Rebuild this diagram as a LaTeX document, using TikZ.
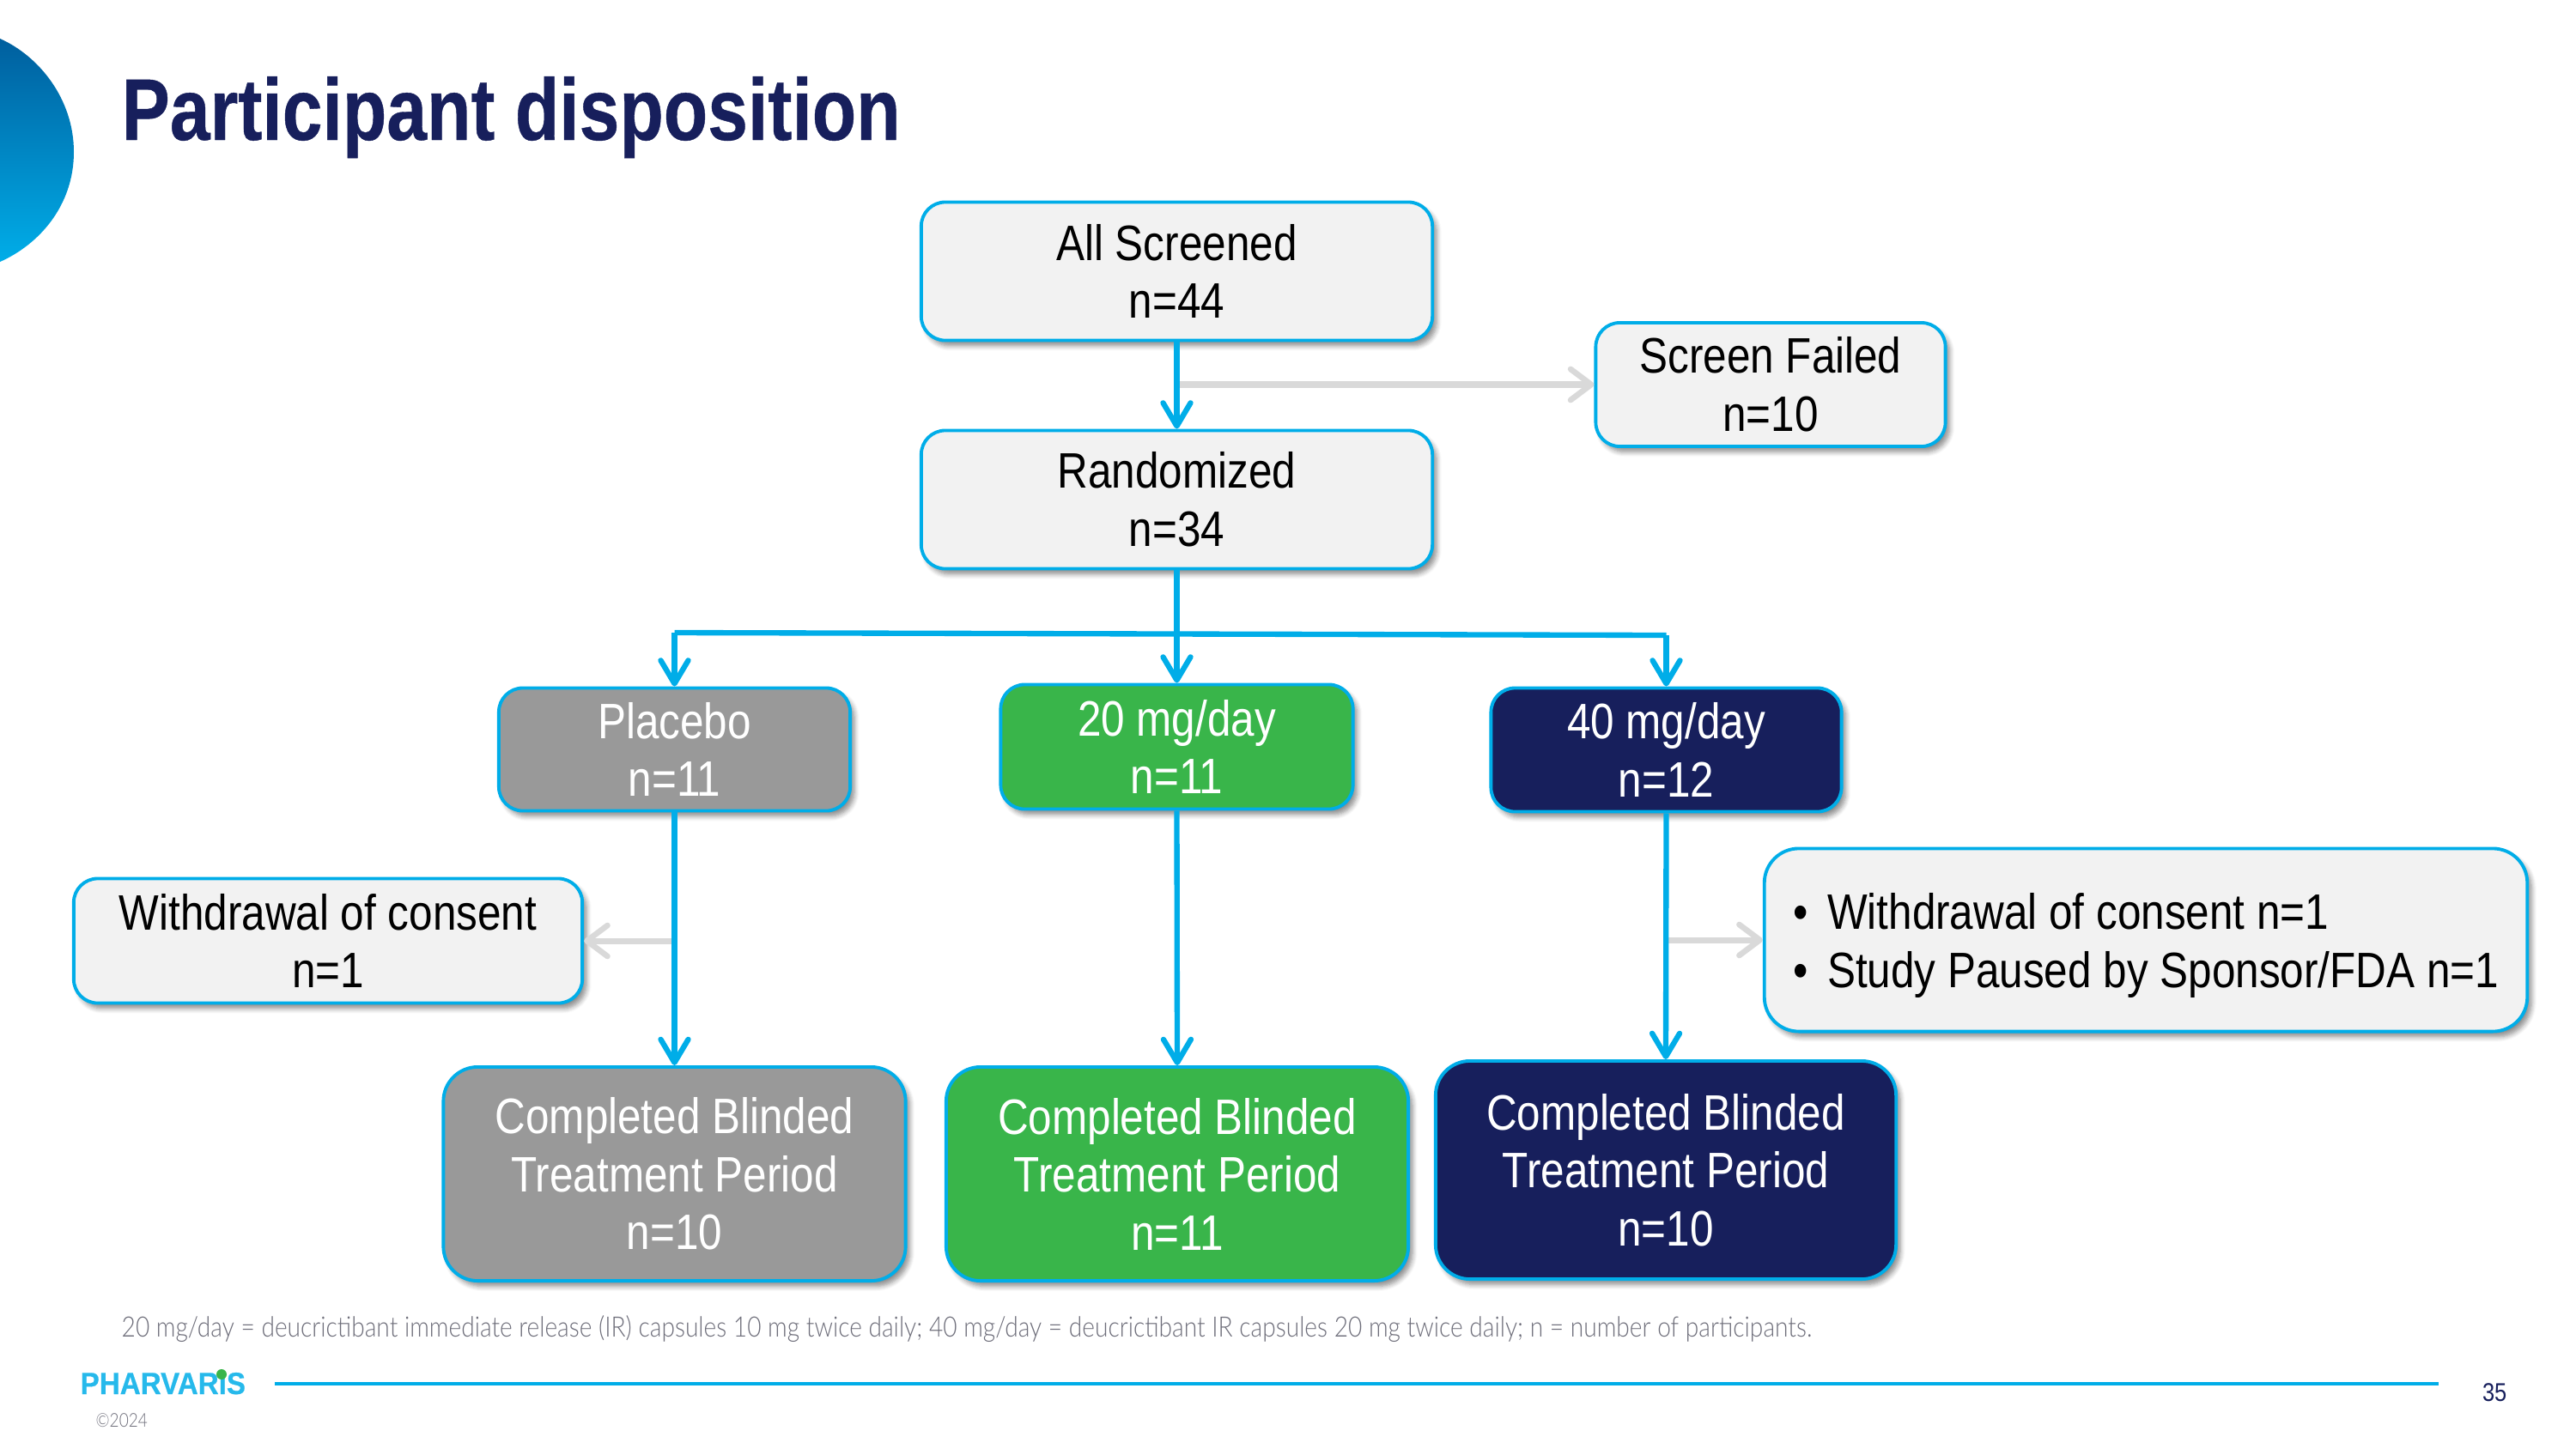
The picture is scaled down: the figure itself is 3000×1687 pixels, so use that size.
\documentclass[tikz,border=0pt]{standalone}
\usepackage{fontspec}
\setmainfont[FakeStretch=0.852]{Liberation Sans}
\newfontfamily\thinfont[FakeStretch=0.86]{Lato Light}
\newfontfamily\titlefont[FakeStretch=0.825,FakeBold=0.4]{Liberation Sans Bold}
\newfontfamily\brandfont[FakeStretch=0.925,FakeBold=0.5]{Liberation Sans Bold}
\usetikzlibrary{arrows.meta,shadows.blur}
\definecolor{flowblue}{HTML}{00ADE8}
\definecolor{flowgrey}{HTML}{999999}
\definecolor{flowgreen}{HTML}{39B54A}
\definecolor{flownavy}{HTML}{171F5C}
\definecolor{palebox}{HTML}{F2F2F2}
\definecolor{paleline}{HTML}{D9D9D9}
\definecolor{noteink}{HTML}{6E6E7A}
\definecolor{logotop}{HTML}{005F9E}
\begin{document}
\begin{tikzpicture}[x=0.01cm, y=-0.01cm,
    flowbox/.style={rectangle, rounded corners=2.8mm, draw=flowblue, line width=1.1pt, align=center, inner sep=0pt, font=\fontsize{16.5}{19.2}\selectfont, blur shadow={shadow xshift=1.4pt, shadow yshift=-1.8pt, shadow blur radius=1.6pt, shadow blur steps=6, shadow opacity=45}},
    palenode/.style={flowbox, fill=palebox, text=black},
    greynode/.style={flowbox, fill=flowgrey, text=white},
    greennode/.style={flowbox, fill=flowgreen, text=white},
    navynode/.style={flowbox, fill=flownavy, text=white},
    mainline/.style={draw=flowblue, line width=1.8pt},
    mainarrow/.style={mainline, -{Straight Barb[round, length=2.7mm, width=3.2mm, line width=1.8pt]}},
    sidearrow/.style={draw=paleline, line width=2pt, -{Straight Barb[round, length=2.4mm, width=3.6mm, line width=1.9pt]}}
  ]
  \useasboundingbox (0,0) rectangle (3000,1687);

  % logo shape at the corner
  \shade[top color=logotop, bottom color=flowblue] (0,45) .. controls (45,65) and (86,115) .. (86,177) .. controls (86,240) and (45,285) .. (0,305) -- cycle;
  \node[anchor=base west, inner sep=0pt, text=flownavy, font=\titlefont\fontsize{29}{32}\selectfont] (title) at (141,163) {Participant disposition};

  % top of the flow
  \node[palenode, minimum width=5.95cm, minimum height=1.61cm] (screened) at (1370.5,316) {All Screened\\n=44};
  \node[palenode, minimum width=4.07cm, minimum height=1.44cm] (failed) at (2062,448) {Screen Failed\\n=10};
  \node[palenode, minimum width=5.95cm, minimum height=1.61cm] (random) at (1370.5,582) {Randomized\\n=34};

  % arms
  \node[greynode, minimum width=4.09cm, minimum height=1.43cm] (placebo) at (785.5,873) {Placebo\\n=11};
  \node[greennode, minimum width=4.10cm, minimum height=1.45cm] (lowdose) at (1370.5,870) {20 mg/day\\n=11};
  \node[navynode, minimum width=4.08cm, minimum height=1.44cm] (highdose) at (1940.5,873.5) {40 mg/day\\n=12};

  % withdrawals
  \node[palenode, minimum width=5.92cm, minimum height=1.45cm] (leftout) at (382,1096) {Withdrawal of consent\\n=1};
  \node[palenode, minimum width=8.88cm, minimum height=2.13cm, rounded corners=4mm] (rightout) at (2499,1095) {\begin{tabular}{@{}l@{\hspace{6.5pt}}l@{}}•&\rule{0pt}{18pt}Withdrawal of consent n=1\\•&Study Paused by Sponsor/FDA n=1\end{tabular}};

  % completed
  \node[greynode, minimum width=5.38cm, minimum height=2.49cm, rounded corners=4mm] (donegrey) at (785.5,1367.5) {Completed Blinded\\Treatment Period\\n=10};
  \node[greennode, minimum width=5.38cm, minimum height=2.49cm, rounded corners=4mm] (donegreen) at (1371,1367.5) {Completed Blinded\\Treatment Period\\n=11};
  \node[navynode, minimum width=5.36cm, minimum height=2.54cm, rounded corners=4mm] (donenavy) at (1940,1363) {Completed Blinded\\Treatment Period\\n=10};

  % connectors
  \coordinate (splitfail) at (screened.south |- failed.west);
  \coordinate (branchleft) at (785.5,737);
  \coordinate (branchright) at (1940.5,740);
  \draw[sidearrow] (splitfail) -- (failed.west);
  \draw[sidearrow] (placebo.south |- leftout.east) -- (leftout.east);
  \draw[sidearrow] (highdose.south |- rightout.west) -- (rightout.west);
  \draw[mainarrow] (screened.south) -- (random.north);
  \draw[mainarrow] (random.south) -- (lowdose.north);
  \draw[mainline] (branchleft) -- (branchright);
  \draw[mainarrow] (branchleft) -- (placebo.north);
  \draw[mainarrow] (branchright) -- (highdose.north);
  \draw[mainarrow] (placebo.south) -- (donegrey.north);
  \draw[mainarrow] (lowdose.south) -- (donegreen.north);
  \draw[mainarrow] (highdose.south) -- (donenavy.north);

  % footer
  \node[anchor=base west, inner sep=0pt, text=noteink, font=\thinfont\fontsize{9.3}{11}\selectfont] (note) at (141,1557) {20 mg/day = deucrictibant immediate release (IR) capsules 10 mg twice daily; 40 mg/day = deucrictibant IR capsules 20 mg twice daily; n = number of participants.};
  \node[anchor=base west, inner sep=0pt, text=flowblue!85!white, font=\brandfont\fontsize{10.2}{12}\selectfont] (brand) at (93,1624) {PHARVARiS};
  \fill[flowgreen] (258,1601) circle[radius=0.06cm];
  \node[anchor=base west, inner sep=0pt, text=noteink, font=\thinfont\fontsize{6.3}{8}\selectfont] (year) at (111,1662) {©2024};
  \node[anchor=base east, inner sep=0pt, text=flownavy, font=\fontsize{8.5}{10}\selectfont] (page) at (2920,1632) {35};
  \coordinate (rulestart) at (320,1612);
  \coordinate (ruleend) at (2840,1612);
  \draw[flowblue, line width=0.9pt] (rulestart) -- (ruleend);
\end{tikzpicture}
\end{document}
